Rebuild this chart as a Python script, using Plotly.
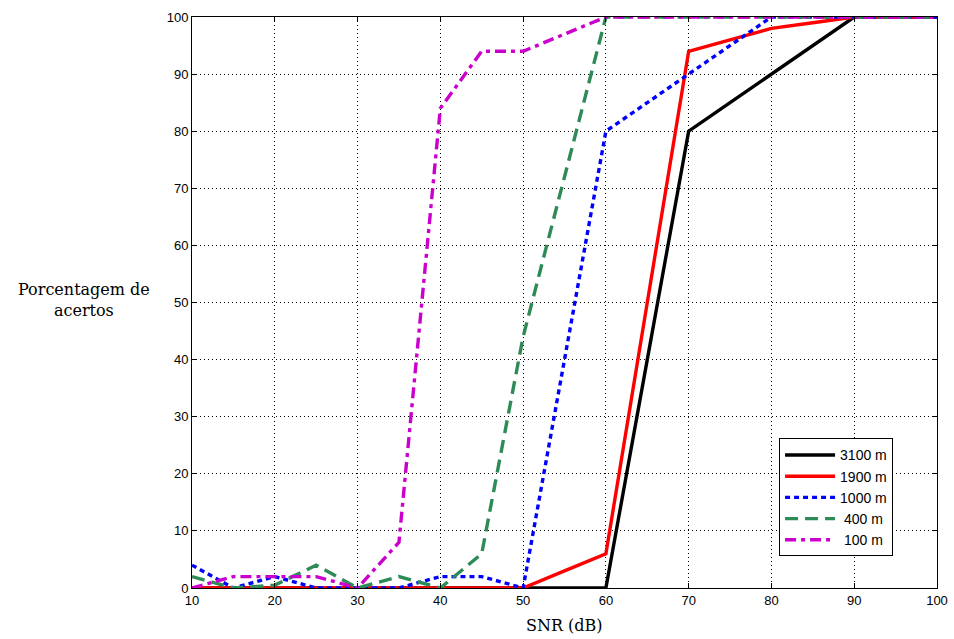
import plotly.graph_objects as go

snr = [10, 15, 20, 25, 30, 35, 40, 45, 50, 55, 60, 65, 70, 75, 80, 85, 90, 95, 100]
names = ["3100 m", "1900 m", "1000 m", " 400 m", " 100 m"]
v3100 = [0, 0, 0, 0, 0, 0, 0, 0, 0, 0, 0, 40, 80, 85, 90, 95, 100, 100, 100]
v1900 = [0, 0, 0, 0, 0, 0, 0, 0, 0, 3, 6, 50, 94, 96, 98, 99, 100, 100, 100]
v1000 = [4, 0, 2, 0, 0, 0, 2, 2, 0, 40, 80, 85, 90, 95, 100, 100, 100, 100, 100]
v400 = [2, 0, 0.5, 4, 0, 2, 0, 6, 44, 72, 100, 100, 100, 100, 100, 100, 100, 100, 100]
v100 = [0, 2, 2, 2, 0, 8, 84, 94, 94, 97, 100, 100, 100, 100, 100, 100, 100, 100, 100]

series = [v3100, v1900, v1000, v400, v100]
colors = ["#000000", "#ff0000", "#0000ff", "#2e8b57", "#cc00cc"]
dashes = ["solid", "solid", "5px,4px", "13px,7px", "11px,5px,4px,5px"]

fig = go.Figure()
for n, v, c, d in zip(names, series, colors, dashes):
    fig.add_trace(go.Scatter(x=snr, y=v, name=n, mode="lines",
                             line=dict(color=c, width=3.4, dash=d)))

axis_common = dict(showline=True, linecolor="black", linewidth=1, mirror="ticks",
                   ticks="inside", ticklen=5, tickcolor="black",
                   showgrid=True, gridcolor="black", griddash="1px,3px", gridwidth=1,
                   zeroline=False, tickfont=dict(family="Liberation Sans", size=13, color="black"))

fig.update_xaxes(range=[10, 100], dtick=10, tick0=10, **axis_common)
fig.update_yaxes(range=[0, 100], dtick=10, tick0=0, **axis_common)

fig.update_layout(
    width=954, height=639,
    margin=dict(l=192, r=17, t=17, b=51, autoexpand=False),
    plot_bgcolor="white", paper_bgcolor="white",
    legend=dict(x=0.788, y=0.262, xanchor="left", yanchor="top",
                bgcolor="white", bordercolor="black", borderwidth=1,
                font=dict(family="Liberation Sans", size=14, color="black"),
                tracegroupgap=0, itemwidth=50),
    annotations=[
        dict(text="Porcentagem de<br>acertos", xref="paper", yref="paper",
             x=-0.145, y=0.504, xanchor="center", yanchor="middle", showarrow=False,
             font=dict(family="DejaVu Serif", size=16, color="black")),
        dict(text="SNR (dB)", xref="paper", yref="paper",
             x=0.5, y=-0.065, xanchor="center", yanchor="middle", showarrow=False,
             font=dict(family="DejaVu Serif", size=16, color="black")),
    ],
)

fig.write_html("out.html", config={"displayModeBar": False},
               post_script="document.body.style.margin='0';document.body.style.overflow='hidden';")
